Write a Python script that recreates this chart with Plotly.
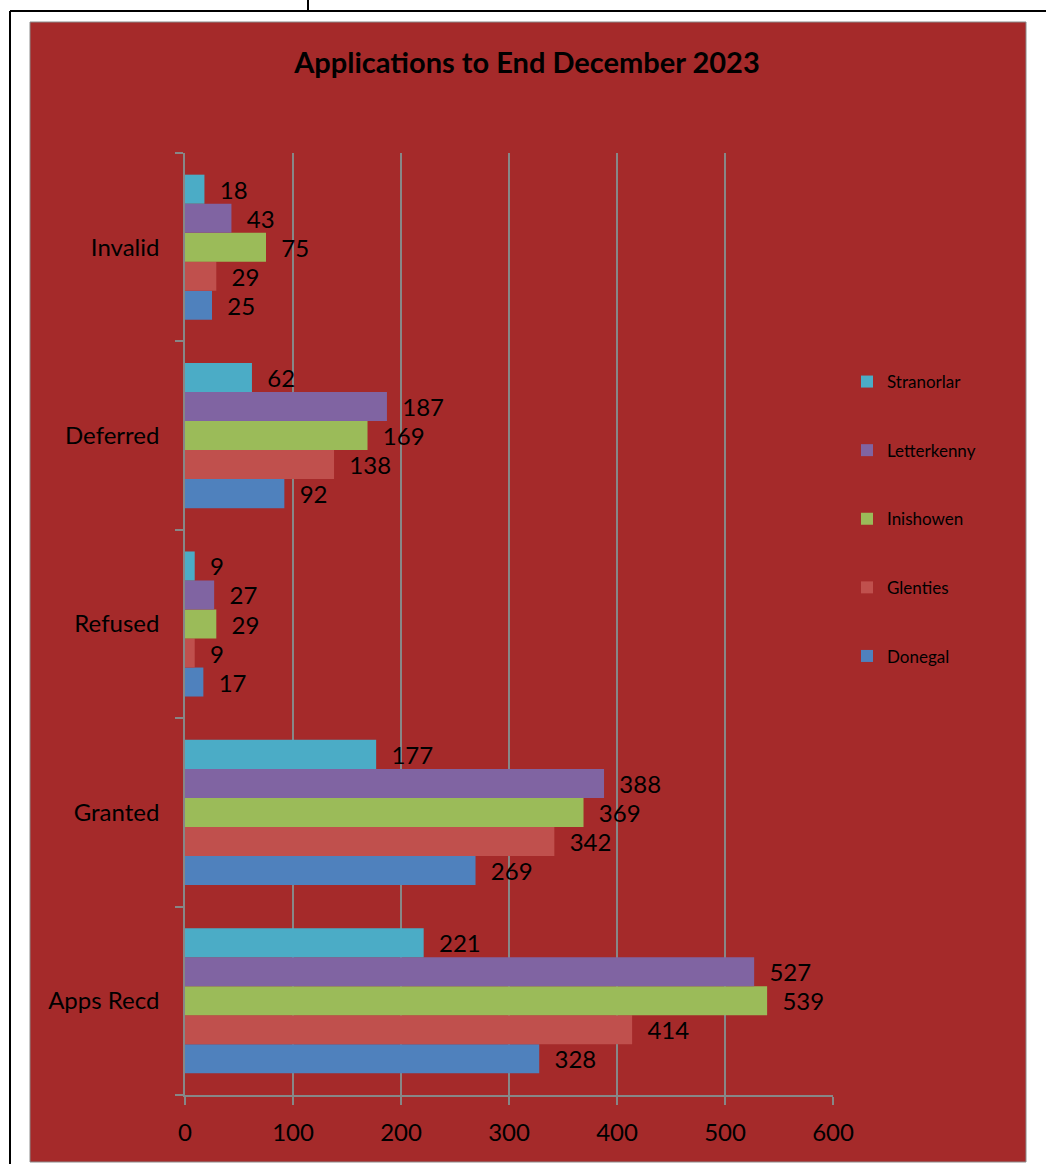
import plotly.graph_objects as go

categories = ["Apps Recd", "Granted", "Refused", "Deferred", "Invalid"]
donegal = [328, 269, 17, 92, 25]
glenties = [414, 342, 9, 138, 29]
inishowen = [539, 369, 29, 169, 75]
letterkenny = [527, 388, 27, 187, 43]
stranorlar = [221, 177, 9, 62, 18]

series = [
    ("Donegal", donegal, "#4F81BD"),
    ("Glenties", glenties, "#C0504D"),
    ("Inishowen", inishowen, "#9BBB59"),
    ("Letterkenny", letterkenny, "#8064A2"),
    ("Stranorlar", stranorlar, "#4BACC6"),
]

W, H = 1046, 1164
ML, MR, MT, MB = 185, 213, 153, 69
PW, PH = W - ML - MR, H - MT - MB


def px(x):
    return (x - ML) / PW


def py(y):
    return (H - MB - y) / PH


FONT = "Lato, 'Open Sans', sans-serif"
RED = "#A52A2A"
GRAY = "#878787"

fig = go.Figure()
n = len(series)
for i, (name, vals, col) in enumerate(series):
    fig.add_trace(go.Bar(
        y=categories, x=vals, name=name, orientation="h",
        marker=dict(color=col, line=dict(width=0)),
        text=vals, texttemplate="\u00a0\u00a0%{x}",
        textposition="outside", constraintext="none", cliponaxis=False,
        textfont=dict(family=FONT, size=24, color="#000000"),
        legendgroup=name, legendrank=n - i,
    ))

shapes = [
    dict(type="rect", xref="paper", yref="paper", x0=px(30), x1=px(1026), y0=py(1162), y1=py(22),
         fillcolor=RED, line=dict(color="#8a8a8a", width=1), layer="below"),
    dict(type="line", xref="paper", yref="paper", x0=px(10), x1=px(10), y0=py(1164), y1=py(11),
         line=dict(color="#000000", width=2)),
    dict(type="line", xref="paper", yref="paper", x0=px(10), x1=px(1046), y0=py(11), y1=py(11),
         line=dict(color="#000000", width=2)),
    dict(type="line", xref="paper", yref="paper", x0=px(308), x1=px(308), y0=py(0), y1=py(11),
         line=dict(color="#000000", width=2)),
]

fig.update_layout(
    width=W, height=H,
    margin=dict(l=ML, r=MR, t=MT, b=MB, pad=0),
    paper_bgcolor="#ffffff", plot_bgcolor="rgba(0,0,0,0)",
    barmode="group", bargap=0.23, bargroupgap=0,
    shapes=shapes,
    title=dict(text="<b>Applications to End December 2023</b>", x=px(527), xanchor="center",
               y=1 - 63 / H, yanchor="middle", xref="paper",
               font=dict(family=FONT, size=29, color="#000000")),
    legend=dict(x=px(847), xanchor="left", y=py(364), yanchor="top",
                traceorder="grouped", tracegroupgap=43.5,
                font=dict(family=FONT, size=17, color="#000000"),
                bgcolor="rgba(0,0,0,0)", itemwidth=30),
    xaxis=dict(range=[0, 600], dtick=100, tick0=0, showgrid=True, gridcolor=GRAY, gridwidth=1.5,
               zeroline=False, showline=True, linecolor=GRAY, linewidth=1.5,
               ticks="outside", ticklen=8, tickcolor=GRAY, tickwidth=1.5,
               ticklabelstandoff=7,
               tickfont=dict(family=FONT, size=24, color="#000000")),
    yaxis=dict(type="category", categoryorder="array", categoryarray=categories,
               showline=True, linecolor=GRAY, linewidth=1.5, showgrid=False,
               ticks="outside", ticklen=8, tickcolor=GRAY, tickwidth=1.5, tickson="boundaries",
               ticklabelstandoff=19,
               tickfont=dict(family=FONT, size=24, color="#000000")),
)

fig.write_html("out.html", config={"displayModeBar": False},
               post_script="document.body.style.margin='0';document.body.style.overflow='hidden';")
